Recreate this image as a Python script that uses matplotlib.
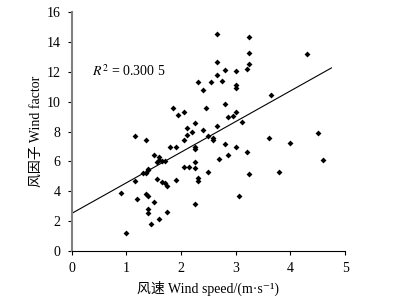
import numpy as np
import matplotlib.pyplot as plt

plt.rcParams['font.family'] = ['Liberation Serif', 'Noto Sans CJK SC', 'DejaVu Serif']
plt.rcParams['mathtext.fontset'] = 'stix'

# -----------------------------
# Data
# -----------------------------
wind_speed = [
    2.65, 3.25, 3.25, 4.30, 2.65, 3.25, 3.20, 2.80, 3.00, 2.65,
    2.30, 2.54, 2.74, 3.00, 3.00, 2.40, 3.64, 1.85, 2.45, 2.80,
    1.94, 2.05, 3.00, 2.85, 2.94, 3.11, 2.25, 2.10, 2.10, 2.20,
    2.40, 2.65, 3.60, 4.50, 1.15, 1.35, 2.50, 2.59, 2.05, 1.80,
    1.90, 2.25, 2.25, 2.59, 2.80, 3.00, 3.20, 4.00, 1.51, 1.60,
    1.55, 1.60, 1.65, 1.70, 2.25, 2.70, 2.85, 4.60, 2.05, 2.15,
    2.25, 1.40, 1.40, 1.30, 1.35, 2.50, 3.79, 3.25, 1.15, 1.55,
    1.65, 1.70, 1.75, 1.90, 2.30, 2.30, 0.90, 1.35, 1.40, 1.20,
    1.51, 3.05, 2.25, 1.40, 1.40, 1.75, 1.60, 1.45, 1.00,
]
wind_factor = [
    14.55, 14.31, 13.24, 13.19, 12.63, 12.52, 12.17, 12.12, 12.05, 11.76,
    11.29, 11.34, 11.38, 11.12, 10.89, 10.76, 10.45, 9.58, 9.58, 9.87,
    9.13, 9.33, 9.29, 8.95, 9.02, 8.64, 8.59, 8.21, 7.80, 7.95,
    8.13, 8.39, 7.57, 7.90, 7.70, 7.41, 7.70, 7.55, 7.41, 6.94,
    6.94, 6.94, 6.85, 7.43, 7.17, 6.94, 6.63, 7.21, 6.41, 6.32,
    5.95, 6.08, 6.05, 6.00, 5.96, 6.18, 6.43, 6.09, 5.60, 5.60,
    5.56, 5.49, 5.42, 5.20, 5.25, 5.31, 5.31, 5.13, 4.69, 4.82,
    4.60, 4.53, 4.33, 4.73, 4.87, 4.71, 3.88, 3.79, 3.68, 3.48,
    3.30, 3.66, 3.17, 2.79, 2.54, 2.59, 2.14, 1.83, 1.21,
]

# fitted trend line (from the chart)
fit_slope = 2.05
fit_intercept = 2.52
fit_x = [0.0, 4.75]
r2_text = "$R^2$ = 0.300 5"

x_ticks = [0, 1, 2, 3, 4, 5]
y_ticks = [0, 2, 4, 6, 8, 10, 12, 14, 16]

# -----------------------------
# Plot
# -----------------------------
fig = plt.figure(figsize=(3.99, 3.08), dpi=100)
ax = fig.add_axes([0.180, 0.185, 0.685, 0.776])

ax.scatter(wind_speed, wind_factor, marker='D', s=9, color='black', linewidths=0)
fx = np.array(fit_x)
ax.plot(fx, fit_slope * fx + fit_intercept, color='black', lw=0.8)

ax.text(0.37, 12.05, r2_text, fontsize=10, va='center', ha='left')

ax.set_xlim(0, 5)
ax.set_ylim(0, 16)
ax.set_xticks(x_ticks)
ax.set_yticks(y_ticks)
ax.tick_params(labelsize=10, direction='out', length=3, width=0.8, pad=5)

for side in ['top', 'right']:
    ax.spines[side].set_visible(False)
ax.spines['left'].set_color('#808080')
ax.spines['left'].set_linewidth(1.5)
ax.spines['bottom'].set_linewidth(0.8)

ax.set_xlabel("风速 Wind speed/(m·s⁻¹)", fontsize=10, labelpad=4)
ax.set_ylabel("风因子 Wind factor", fontsize=10, labelpad=3)

fig.savefig("out.png", dpi=100)
